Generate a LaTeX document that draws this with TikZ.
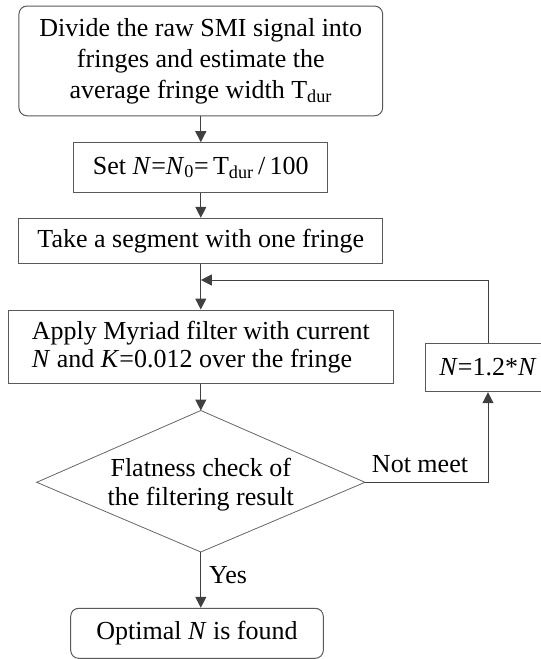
\documentclass[tikz,border=0pt]{standalone}
\usepackage{fontspec}
\setmainfont{Liberation Serif}
\usetikzlibrary{arrows.meta}
\begin{document}
\begin{tikzpicture}[x=1pt,y=-1pt,
  every node/.style={font=\fontsize{26}{30}\selectfont, text=black},
  boxA/.style={draw=black!65, line width=1pt, inner sep=0pt, align=center},
  rbox/.style={boxA, rounded corners=8pt},
  dia/.style={draw=black!60, line width=0.8pt},
  arr/.style={draw=black!75, line width=1pt, -{Triangle[length=11pt,width=11pt]}},
  lbl/.style={inner sep=0pt}
]
\useasboundingbox (0,0) rectangle (541,659);
\node[rbox, minimum width=363.7pt, minimum height=109.7pt] (b1) at (200.8,60.9)
  {Divide the raw SMI signal into\\[1pt] fringes and estimate the\\[1pt] average fringe width T\textsubscript{dur}};
\node[boxA, minimum width=254.3pt, minimum height=49.6pt] (b2) at (200.8,167.5)
  {Set \textit{N}=\textit{N}\textsubscript{0}=\,T\textsubscript{dur}\,/\,100};
\node[boxA, minimum width=363.7pt, minimum height=45pt] (b3) at (200.8,240.8)
  {Take a segment with one fringe};
\node[boxA, align=left, minimum width=385pt, minimum height=73.3pt] (b4) at (200.8,346.7)
  {Apply Myriad filter with current\\[-2pt] \textit{N} and \textit{K}=0.012 over the fringe};
\node[boxA, minimum width=124.6pt, minimum height=48.4pt] (b5) at (488,367.5)
  {\textit{N}=1.2*\textit{N}};
\coordinate (dN) at (200.8,410.5);
\coordinate (dE) at (365,482.3);
\coordinate (dS) at (200.8,552);
\coordinate (dW) at (36.7,482.3);
\draw[dia] (dN) -- (dE) -- (dS) -- (dW) -- cycle;
\node[lbl, align=center] (d) at (200.8,485)
  {Flatness check of\\[-1pt] the filtering result};
\node[rbox, minimum width=252.6pt, minimum height=50pt] (b6) at (197,633.3)
  {Optimal \textit{N} is found};
\coordinate (m) at (200.8,280);
\draw[arr] (b1) -- (b2);
\draw[arr] (b2) -- (b3);
\draw[arr] (b3.south) -- (b4.north);
\draw[arr] (b5.north) |- (m);
\draw[arr] (b4.south) -- (dN);
\draw[arr] (dE) -| (b5.south);
\draw[arr] (dS) -- (dS |- b6.north);
\node[lbl, anchor=base] (nm) at (420,472) {Not meet};
\node[lbl, anchor=base west] (yes) at (209,583) {Yes};
\end{tikzpicture}
\end{document}
